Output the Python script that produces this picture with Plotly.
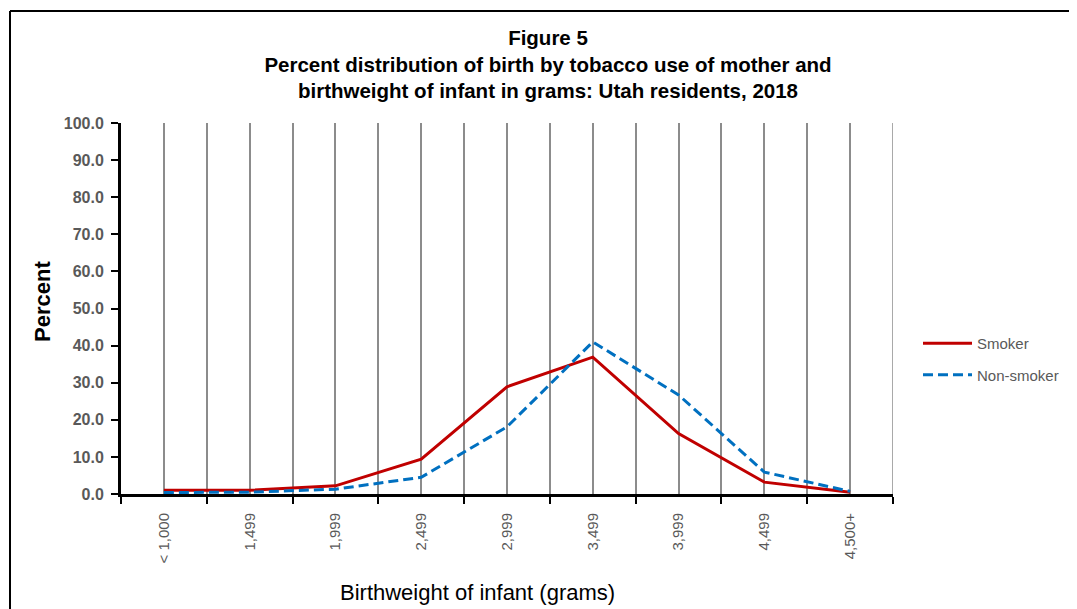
import plotly.graph_objects as go

categories = ["< 1,000", "1,499", "1,999", "2,499", "2,999", "3,499", "3,999", "4,499", "4,500+"]
smoker = [1.0, 1.0, 2.2, 9.4, 28.9, 36.9, 16.3, 3.2, 0.5]
non_smoker = [0.4, 0.5, 1.3, 4.5, 18.1, 41.0, 26.7, 5.9, 0.7]
y_ticks = [0, 10, 20, 30, 40, 50, 60, 70, 80, 90, 100]

xpos = list(range(len(categories)))

fig = go.Figure()
fig.add_trace(go.Scatter(x=xpos, y=smoker, mode="lines", name="Smoker", legendgroup="s",
                         line=dict(color="#C00000", width=3)))
fig.add_trace(go.Scatter(x=xpos, y=non_smoker, mode="lines", name="Non-smoker", legendgroup="n",
                         line=dict(color="#0070C0", width=3, dash="10px,5px")))

OFF = 8  # page body margin
W, H = 1077 - OFF, 609 - OFF
# plot area in screen pixels
L, R, T, B = 121, 893, 123, 494

def px(x):
    return (x - L) / (R - L)

def py(y):
    return (B - y) / (B - T)

FONT = "Liberation Sans, Arial, sans-serif"

fig.update_layout(
    width=W, height=H,
    margin=dict(l=L - OFF, r=W - (R - OFF), t=T - OFF, b=H - (B - OFF)),
    paper_bgcolor="white", plot_bgcolor="white",
    title=dict(text="<b>Figure 5<br>Percent distribution of birth by tobacco use of mother and<br>birthweight of infant in grams: Utah residents, 2018</b>",
               x=px(548), xref="paper", xanchor="center", yref="container", y=1 - 37 / H, yanchor="top",
               font=dict(family=FONT, size=20.5, color="black")),
    showlegend=True,
    legend=dict(x=px(918), y=py(359), xanchor="left", yanchor="middle",
                font=dict(family=FONT, size=15, color="#595959"),
                bgcolor="rgba(0,0,0,0)", tracegroupgap=9, itemwidth=49),
    xaxis=dict(
        range=[-0.5, len(categories) - 0.5],
        tickmode="array", tickvals=xpos, ticktext=categories,
        tickangle=-90, ticks="", ticklabelstandoff=10,
        tickfont=dict(family=FONT, size=15, color="#595959"),
        showgrid=True, gridcolor="#8C8C8C", gridwidth=1.5,
        showline=True, linecolor="black", linewidth=3,
        zeroline=False,
        minor=dict(tick0=-0.5, dtick=1, ticks="outside", ticklen=7, tickwidth=2,
                   tickcolor="black", showgrid=True, gridcolor="#8C8C8C", gridwidth=1.5),
    ),
    yaxis=dict(
        range=[0, 100],
        tickmode="array", tickvals=y_ticks, ticktext=[f"{v:.1f}" for v in y_ticks],
        ticks="outside", ticklen=7, tickwidth=2, tickcolor="black", ticklabelstandoff=4,
        tickfont=dict(family=FONT, size=16, color="#595959", weight="bold"),
        showgrid=False, zeroline=False,
        showline=True, linecolor="black", linewidth=3,
    ),
)

# axis titles
fig.add_annotation(text="Birthweight of infant (grams)", xref="paper", yref="paper",
                   x=px(477), y=py(592), xanchor="center", yanchor="middle", showarrow=False,
                   font=dict(family=FONT, size=22, color="black"))
fig.add_annotation(text="<b>Percent</b>", xref="paper", yref="paper", textangle=-90,
                   x=px(42), y=py(302), xanchor="center", yanchor="middle", showarrow=False,
                   font=dict(family=FONT, size=22, color="black"))

# right-edge gridline (category boundary at end of axis)
fig.add_shape(type="line", xref="x", yref="paper",
              x0=len(categories) - 0.5, x1=len(categories) - 0.5, y0=0, y1=1,
              line=dict(color="#8C8C8C", width=1.5), layer="below")

# outer frame (left and top edges)
fig.add_shape(type="line", xref="paper", yref="paper",
              x0=px(10), x1=px(1077 + 5), y0=py(11), y1=py(11),
              line=dict(color="black", width=2))
fig.add_shape(type="line", xref="paper", yref="paper",
              x0=px(10), x1=px(10), y0=py(11), y1=py(609 + 5),
              line=dict(color="black", width=2))

fig.write_html("out.html")
